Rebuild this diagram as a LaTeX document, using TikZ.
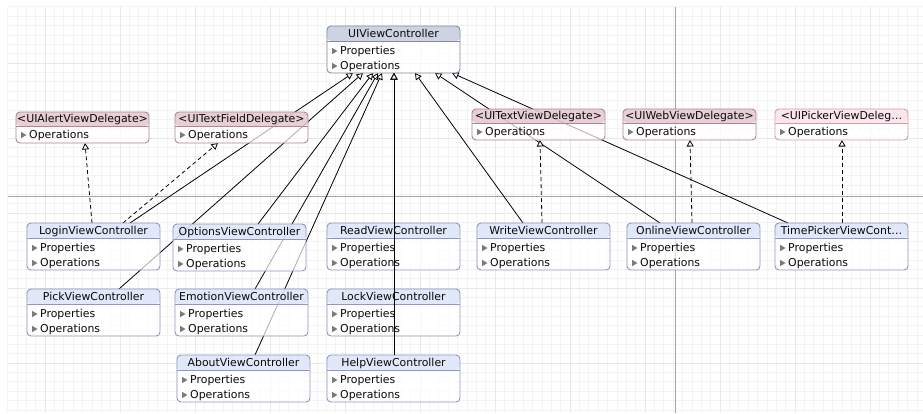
\documentclass[tikz,border=0pt]{standalone}
\usepackage{fontspec}
\setmainfont{DejaVu Sans}
\usetikzlibrary{arrows.meta,calc}
\pgfdeclarelayer{gridlayer}
\pgfdeclarelayer{edgelayer}
\pgfsetlayers{gridlayer,edgelayer,main}

\definecolor{gridminor}{HTML}{F3F3F3}
\definecolor{gridmajor}{HTML}{E9E9E9}
\definecolor{pagebreak}{HTML}{A6A6A6}
\definecolor{clshead}{HTML}{D4DEF7}
\definecolor{clsborder}{HTML}{8F98BC}
\definecolor{roothead}{HTML}{B8BFD7}
\definecolor{rootborder}{HTML}{858AA3}
\definecolor{delhead}{HTML}{DDB9C2}
\definecolor{delborder}{HTML}{AC8792}
\definecolor{pickhead}{HTML}{FADBE3}
\definecolor{pickborder}{HTML}{D39AA8}
\definecolor{tricol}{HTML}{7A7A7A}
\definecolor{txtcol}{HTML}{0A0A0A}

\tikzset{
  box/.style={draw=#1, line width=0.9pt, rounded corners=4pt, minimum width=133pt,
    inner sep=0pt, outer sep=0pt, fill=white, fill opacity=0.68, anchor=north west},
  ttl/.style={font=\fontsize{10.9}{12}\selectfont, text=txtcol, inner sep=0pt,
    text height=7.9pt, text depth=0pt},
  rowtxt/.style={ttl, anchor=west},
  inh/.style={-{Triangle[length=6.5pt,width=7pt,fill=white]}, line width=0.8pt, draw=black},
  real/.style={inh, dash pattern=on 4pt off 3pt},
}

% row with disclosure triangle
\newcommand\rowitem[3]{%
  \fill[tricol] ($(#1.north west)+(5,#2-3.2)$) -- ++(0,6.4) -- ++(5.5,-3.2) -- cycle;
  \node[rowtxt] at ($(#1.north west)+(13,#2)$) {#3};
}
% class box: name, x, y, title, head colour, border colour
\newcommand\clsbox[6]{%
  \node[box=#6, minimum height=47pt,
    path picture={\fill[#5] (path picture bounding box.north west) rectangle
      ([yshift=-15pt]path picture bounding box.north east);}]
    (#1) at (#2,#3) {};
  \draw[#6, line width=0.9pt] ([yshift=-15pt]#1.north west) -- ([yshift=-15pt]#1.north east);
  \node[ttl] at ([yshift=-7.5pt]#1.north) {#4};
  \rowitem{#1}{25}{Properties}
  \rowitem{#1}{40}{Operations}
}
% protocol box: name, x, y, title, head colour, border colour
\newcommand\protbox[6]{%
  \node[box=#6, minimum height=31pt,
    path picture={\fill[#5] (path picture bounding box.north west) rectangle
      ([yshift=-14pt]path picture bounding box.north east);}]
    (#1) at (#2,#3) {};
  \draw[#6, line width=0.9pt] ([yshift=-14pt]#1.north west) -- ([yshift=-14pt]#1.north east);
  \node[ttl] at ([yshift=-7pt]#1.north) {#4};
  \rowitem{#1}{23}{Operations}
}

\begin{document}
\begin{tikzpicture}[x=1pt,y=-1pt]
\useasboundingbox (0,0) rectangle (923,413);

% background and grid
\begin{pgfonlayer}{gridlayer}
  \fill[white] (0,0) rectangle (923,413);
  \foreach \i in {0,...,97} {\draw[gridminor, line width=0.6pt] ({7.5+\i*9.375},7) -- ({7.5+\i*9.375},413);}
  \foreach \i in {0,...,43} {\draw[gridminor, line width=0.6pt] (7.5,{6.75+\i*9.375}) -- (923,{6.75+\i*9.375});}
  \foreach \i in {0,...,11} {\draw[gridmajor, line width=0.8pt] ({45+\i*75},7) -- ({45+\i*75},413);}
  \foreach \i in {0,...,4} {\draw[gridmajor, line width=0.8pt] (7.5,{63+\i*75}) -- (923,{63+\i*75});}
  \draw[pagebreak, line width=0.8pt] (8,196) -- (923,196);
  \draw[pagebreak, line width=0.8pt] (675,7) -- (675,413);
\end{pgfonlayer}

% root class
\clsbox{uiv}{327}{26}{UIViewController}{roothead}{rootborder}

% protocols
\protbox{alert}{16}{112}{<UIAlertViewDelegate>}{delhead}{delborder}
\protbox{tfd}{175}{112}{<UITextFieldDelegate>}{delhead}{delborder}
\protbox{tvd}{472}{109}{<UITextViewDelegate>}{delhead}{delborder}
\protbox{wvd}{623}{109}{<UIWebViewDelegate>}{delhead}{delborder}
\protbox{pvd}{775}{109}{<UIPickerViewDeleg…}{pickhead}{pickborder}

% controllers
\clsbox{login}{27}{223}{LoginViewController}{clshead}{clsborder}
\clsbox{options}{173}{224}{OptionsViewController}{clshead}{clsborder}
\clsbox{read}{327}{223}{ReadViewController}{clshead}{clsborder}
\clsbox{write}{477}{223}{WriteViewController}{clshead}{clsborder}
\clsbox{online}{627}{223}{OnlineViewController}{clshead}{clsborder}
\clsbox{timepicker}{775}{223}{TimePickerViewCont…}{clshead}{clsborder}
\clsbox{pick}{27}{289}{PickViewController}{clshead}{clsborder}
\clsbox{emotion}{175}{289}{EmotionViewController}{clshead}{clsborder}
\clsbox{lock}{327}{289}{LockViewController}{clshead}{clsborder}
\clsbox{about}{177}{355}{AboutViewController}{clshead}{clsborder}
\clsbox{help}{327}{355}{HelpViewController}{clshead}{clsborder}

% connectors running behind the boxes
\begin{pgfonlayer}{edgelayer}
  \draw[inh] ($(login.north west)+(103,0)$) -- ($(uiv.south west)+(26,0)$);
  \draw[inh] ($(pick.north west)+(92,0)$) -- ($(uiv.south west)+(36,0)$);
  \draw[inh] ($(options.north west)+(85,0)$) -- ($(uiv.south west)+(46,0)$);
  \draw[inh] ($(emotion.north west)+(80,0)$) -- ($(uiv.south west)+(51,0)$);
  \draw[inh] ($(about.north west)+(78,0)$) -- ($(uiv.south west)+(55,0)$);
  \draw[inh] ($(write.north west)+(46,0)$) -- ($(uiv.south west)+(88,0)$);
  \draw[inh] ($(online.north west)+(33,0)$) -- ($(uiv.south west)+(108,0)$);
  \draw[inh] ($(timepicker.north west)+(13,0)$) -- ($(uiv.south west)+(125,0)$);
  \draw[real] ($(login.north west)+(65,0)$) -- ($(alert.south west)+(69,0)$);
  \draw[real] ($(login.north west)+(96,0)$) -- ($(tfd.south west)+(43,0)$);
  \draw[real] ($(write.north west)+(65,0)$) -- ($(tvd.south west)+(68,0)$);
  \draw[real] ($(online.north west)+(65,0)$) -- ($(wvd.south west)+(67,0)$);
  \draw[real] ($(timepicker.north west)+(67,0)$) -- ($(pvd.south west)+(67,0)$);
\end{pgfonlayer}

% vertical inheritance lines drawn on top
\draw[inh] ($(help.north west)+(67,0)$) -- ($(uiv.south west)+(67,0)$);
\draw[inh] ($(lock.north west)+(67,0)$) -- ($(uiv.south west)+(67,0)$);
\draw[inh] ($(read.north west)+(67,0)$) -- ($(uiv.south west)+(67,0)$);
\end{tikzpicture}
\end{document}
